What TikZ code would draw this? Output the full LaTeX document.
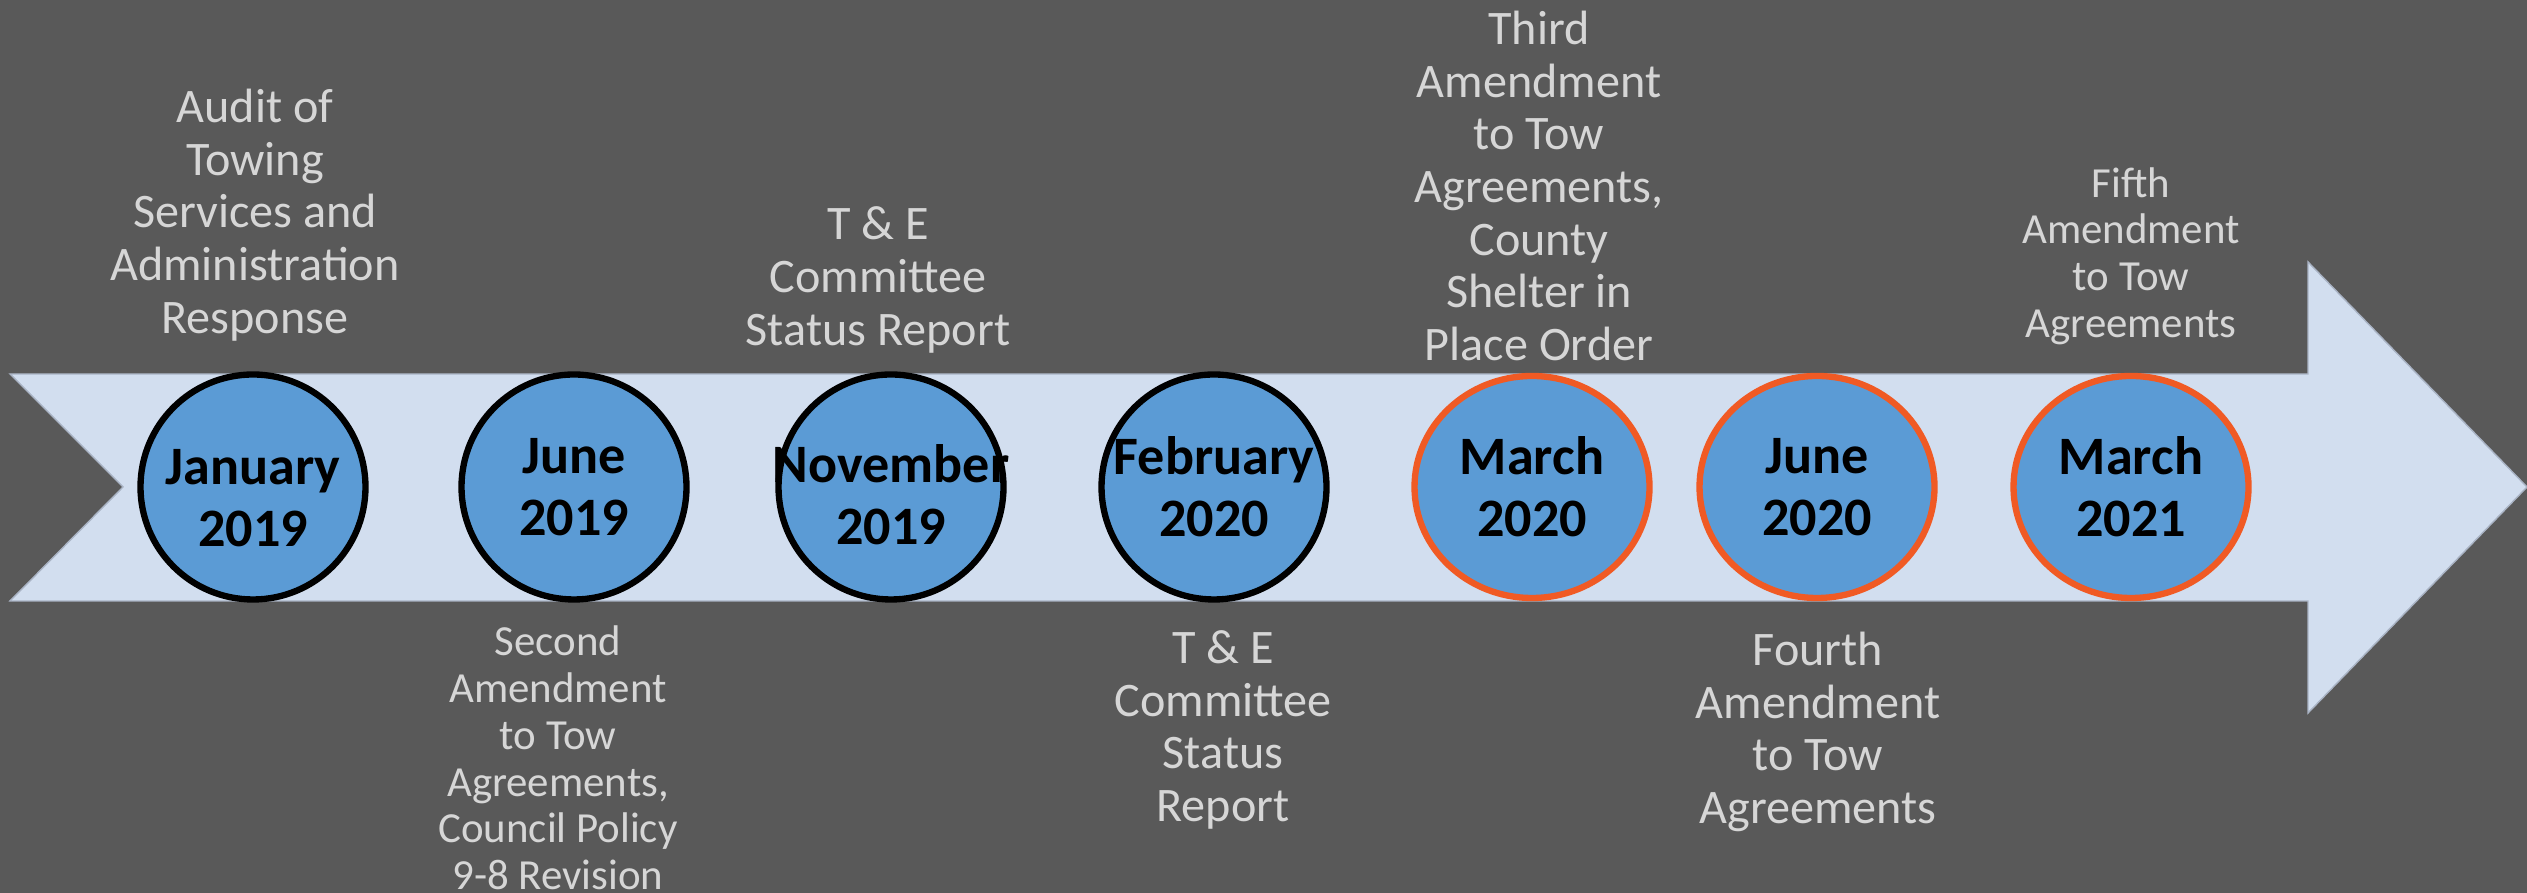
\documentclass[tikz,border=0pt]{standalone}
\usepackage{fontspec}
\setmainfont{Carlito}
\usetikzlibrary{shapes.geometric}

\definecolor{slidebg}{HTML}{595959}
\definecolor{bandblue}{HTML}{D2DEEF}
\definecolor{bandedge}{HTML}{A9B3C4}
\definecolor{dotblue}{HTML}{5B9BD5}
\definecolor{ringorange}{HTML}{F05A24}
\definecolor{notegray}{HTML}{D6D6D6}

\begin{document}
\begin{tikzpicture}
    		\newcommand{\bandmid}{4.06}
    		\newcommand{\bandtop}{5.19}
    		\newcommand{\bandbot}{2.92}
    		\newcommand{\headx}{23.08} % where the arrow head starts

    		% set the styles of the dates and the notes
    		\tikzset{
    			datedot/.style={
    				circle,
    				draw=black,
    				line width=1.8pt,
    				fill=dotblue,
    				minimum size=2.25cm,
    				inner sep=0pt
    				},
    			dateorange/.style={
    				datedot,
    				ellipse,
    				draw=ringorange,
    				minimum width=2.35cm,
    				minimum height=2.22cm
    				},
    			datetext/.style={
    				align=center,
    				inner sep=0pt,
    				font=\fontsize{15.4}{17.6}\selectfont\bfseries
    				},
    			eventtext/.style={
    				text=notegray,
    				align=center,
    				font=\fontsize{13.7}{15}\selectfont
    				},
    			eventsmall/.style={
    				eventtext,
    				font=\fontsize{12.2}{13.3}\selectfont
    				}
    		}

    		% background
    		\fill[slidebg] (0,0) rectangle (25.27,8.93);
    		\useasboundingbox (0,0) rectangle (25.27,8.93);

    		% the arrow
    		\filldraw[fill=bandblue, draw=bandedge, line width=0.4pt]
    			(0.10,\bandtop) -- (\headx,\bandtop) -- (\headx,6.31) -- (25.27,\bandmid)
    			-- (\headx,1.80) -- (\headx,\bandbot) -- (0.10,\bandbot) -- (1.23,\bandmid) -- cycle;

    		% dates
    		\node[datedot] (jan19) at (2.53,\bandmid) {};
    		\node[datedot] (jun19) at (5.74,\bandmid) {};
    		\node[datedot] (nov19) at (8.91,\bandmid) {};
    		\node[datedot] (feb20) at (12.14,\bandmid) {};
    		\node[dateorange] (mar20) at (15.32,\bandmid) {};
    		\node[dateorange] (jun20) at (18.17,\bandmid) {};
    		\node[dateorange] (mar21) at (21.31,\bandmid) {};

    		\node[datetext, yshift=-0.11cm] (jan19t) at (jan19) {January\\2019};
    		\node[datetext] (jun19t) at (jun19) {June\\2019};
    		\node[datetext, yshift=-0.08cm] (nov19t) at (nov19) {November\\2019};
    		\node[datetext] (feb20t) at (feb20) {February\\2020};
    		\node[datetext] (mar20t) at (mar20) {March\\2020};
    		\node[datetext] (jun20t) at (jun20) {June\\2020};
    		\node[datetext] (mar21t) at (mar21) {March\\2021};

    		% events above the arrow
    		\node[eventtext] (audit) at (2.55,6.78) {Audit of\\Towing\\Services and\\Administration\\Response};
    		\node[eventtext] (tereport) at (8.78,6.13) {T \& E\\Committee\\Status Report};
    		\node[eventtext] (third) at (15.39,7.07) {Third\\Amendment\\to Tow\\Agreements,\\County\\Shelter in\\Place Order};
    		\node[eventsmall] (fifth) at (21.31,6.37) {Fifth\\Amendment\\to Tow\\Agreements};

    		% events below the arrow
    		\node[eventsmall] (second) at (5.58,1.35) {Second\\Amendment\\to Tow\\Agreements,\\Council Policy\\9-8 Revision};
    		\node[eventtext] (testatus) at (12.23,1.63) {T \& E\\Committee\\Status\\Report};
    		\node[eventtext] (fourth) at (18.18,1.61) {Fourth\\Amendment\\to Tow\\Agreements};

\end{tikzpicture}
\end{document}
